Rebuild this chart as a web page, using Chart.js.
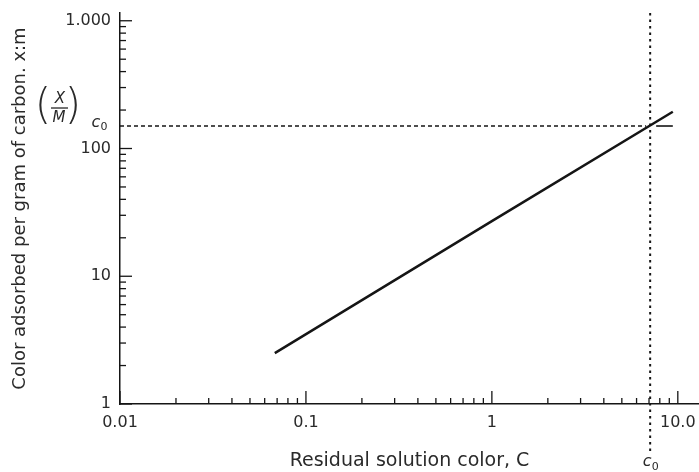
<!doctype html>
<html lang="en">
<head>
<meta charset="utf-8">
<title>Color adsorbed per gram of carbon</title>
<script src="https://cdn.jsdelivr.net/npm/chart.js"></script>
<style>
  html, body { margin: 0; background: #fff; }
  .chart-box { width: 699px; height: 472px; }
</style>
</head>
<body>
<div class="chart-box"><canvas id="isotherm"></canvas></div>
<script>
// values
const residualColor = [0.068, 1, 9.4];   // C
const adsorbedPerGram = [2.5, 27, 194];  // x/m
const xTicks = [0.01, 0.1, 1, 10];
const xTickLabels = ['0.01', '0.1', '1', '10.0'];
const yTicks = [1, 10, 100, 1000];
const yTickLabels = ['1', '10', '100', '1.000'];
const c0 = [7.1];        // initial color c0
const xmAtC0 = [150];    // (X/M) at c0

const ink = '#151515';
const textInk = '#2a2a2a';
const fontFamily = '"DejaVu Sans", sans-serif';

function seg(ctx, x1, y1, x2, y2) {
    ctx.beginPath();
    ctx.moveTo(x1, y1);
    ctx.lineTo(x2, y2);
    ctx.stroke();
}

// inward log ticks, the c0 guide lines and the little labels
const figureMarks = {
    id: 'figureMarks',
    afterDatasetsDraw(chart) {
        const { ctx, chartArea: a, scales: { x, y } } = chart;
        ctx.save();
        ctx.strokeStyle = ink;
        ctx.lineWidth = 1.3;

        for (let d = -2; d <= 1; d++) {
            for (let m = 1; m <= 9; m++) {
                const v = m * Math.pow(10, d);
                if (v > x.max) break;
                const px = x.getPixelForValue(v);
                seg(ctx, px, a.bottom, px, a.bottom - (m === 1 ? 13 : 6));
            }
        }
        for (let d = 0; d <= 3; d++) {
            for (let m = 1; m <= 9; m++) {
                const v = m * Math.pow(10, d);
                if (v > y.max) break;
                const py = y.getPixelForValue(v);
                seg(ctx, a.left, py, a.left + (m === 1 ? 12 : 6), py);
            }
        }

        const cx = x.getPixelForValue(c0[0]);
        const cy = y.getPixelForValue(xmAtC0[0]);
        const endX = x.getPixelForValue(residualColor[residualColor.length - 1]);

        ctx.lineWidth = 1.6;
        ctx.setLineDash([4, 3]);
        seg(ctx, a.left, cy, cx - 4, cy);
        ctx.setLineDash([]);
        seg(ctx, cx + 6, cy, endX, cy);

        ctx.lineWidth = 2;
        ctx.setLineDash([2.5, 4]);
        seg(ctx, cx, a.top, cx, a.bottom + 48);
        ctx.setLineDash([]);

        // (X/M) c0 beside the y axis
        ctx.fillStyle = textInk;
        ctx.textAlign = 'center';
        ctx.textBaseline = 'middle';
        ctx.font = '200 42px ' + fontFamily;
        ctx.fillText('(', a.left - 77, cy - 18);
        ctx.fillText(')', a.left - 47, cy - 18);
        ctx.font = 'italic 15px ' + fontFamily;
        ctx.fillText('X', a.left - 60, cy - 27);
        ctx.fillText('M', a.left - 61, cy - 8);
        ctx.lineWidth = 1.2;
        seg(ctx, a.left - 69, cy - 18, a.left - 52, cy - 18);
        ctx.font = 'italic 16px ' + fontFamily;
        ctx.fillText('c', a.left - 24, cy - 3);
        ctx.font = '11px ' + fontFamily;
        ctx.fillText('0', a.left - 16, cy + 1);

        // c0 under the x axis
        ctx.font = 'italic 16px ' + fontFamily;
        ctx.fillText('c', cx - 3, a.bottom + 58);
        ctx.font = '11px ' + fontFamily;
        ctx.fillText('0', cx + 5, a.bottom + 63);
        ctx.restore();
    }
};

new Chart(document.getElementById('isotherm'), {
    type: 'line',
    data: {
        datasets: [{
            data: residualColor.map((c, i) => ({ x: c, y: adsorbedPerGram[i] })),
            borderColor: ink,
            borderWidth: 2.5,
            pointRadius: 0,
            tension: 0
        }]
    },
    options: {
        responsive: true,
        maintainAspectRatio: false,
        animation: false,
        layout: { padding: { top: 13, right: 0, bottom: 0, left: 0 } },
        plugins: { legend: { display: false }, tooltip: { enabled: false } },
        scales: {
            x: {
                type: 'logarithmic',
                min: 0.01,
                max: 13,
                afterBuildTicks: s => { s.ticks = xTicks.map(v => ({ value: v })); },
                afterFit: s => { s.height = 68; s.paddingLeft = 0; s.paddingRight = 0; },
                grid: { display: false, drawTicks: false },
                border: { color: ink, width: 1.5 },
                ticks: {
                    autoSkip: false, maxRotation: 0, padding: 9, color: textInk,
                    font: { family: fontFamily, size: 16 },
                    callback: v => xTickLabels[xTicks.indexOf(v)]
                },
                title: {
                    display: true, text: 'Residual solution color, C', color: textInk,
                    font: { family: fontFamily, size: 19 }, padding: { top: 4, bottom: 0 }
                }
            },
            y: {
                type: 'logarithmic',
                min: 1,
                max: 1150,
                afterBuildTicks: s => { s.ticks = yTicks.map(v => ({ value: v })); },
                afterFit: s => { s.width = 120; s.paddingTop = 0; s.paddingBottom = 0; },
                grid: { display: false, drawTicks: false },
                border: { color: ink, width: 1.5 },
                ticks: {
                    autoSkip: false, padding: 9, color: textInk,
                    font: { family: fontFamily, size: 16 },
                    callback: v => yTickLabels[yTicks.indexOf(v)]
                },
                title: {
                    display: true, text: 'Color adsorbed per gram of carbon. x:m', color: textInk,
                    font: { family: fontFamily, size: 18 }, padding: { top: 10, bottom: 0 }
                }
            }
        }
    },
    plugins: [figureMarks]
});
</script>
</body>
</html>
